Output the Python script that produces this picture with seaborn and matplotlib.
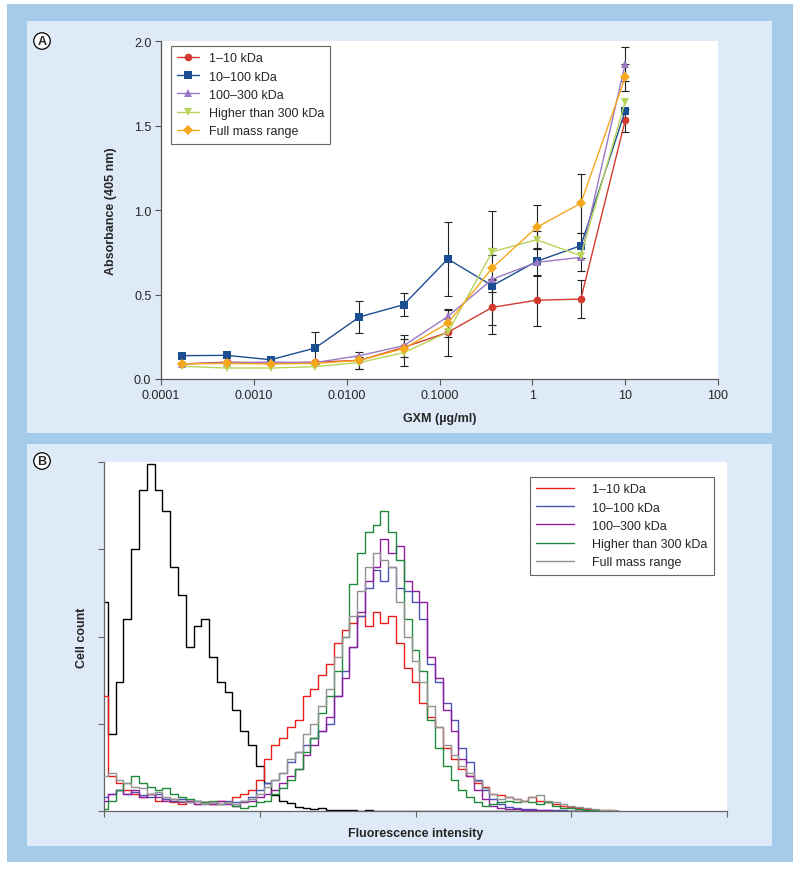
import numpy as np
import pandas as pd
import matplotlib
matplotlib.use("Agg")
import matplotlib.pyplot as plt
from matplotlib.patches import Rectangle
import seaborn as sns

sns.set_style("white")
plt.rcParams['font.family'] = ['Liberation Sans', 'DejaVu Sans']

# ---------- Panel A data: ELISA absorbance vs GXM concentration ----------
gxm = [0.000169, 0.000508, 0.00152, 0.00457, 0.0137, 0.0412, 0.123, 0.370, 1.11, 3.33, 10.0]
fractions = ["1\u201310 kDa", "10\u2013100 kDa", "100\u2013300 kDa", "Higher than 300 kDa", "Full mass range"]
abs_1_10 = [0.089, 0.100, 0.093, 0.100, 0.110, 0.187, 0.276, 0.424, 0.466, 0.473, 1.530]
abs_10_100 = [0.138, 0.140, 0.114, 0.183, 0.367, 0.440, 0.710, 0.552, 0.696, 0.789, 1.586]
abs_100_300 = [0.089, 0.097, 0.100, 0.097, 0.138, 0.197, 0.370, 0.590, 0.690, 0.720, 1.864]
abs_gt300 = [0.075, 0.065, 0.065, 0.073, 0.097, 0.156, 0.276, 0.753, 0.824, 0.730, 1.640]
abs_full = [0.090, 0.092, 0.089, 0.092, 0.110, 0.180, 0.330, 0.657, 0.897, 1.040, 1.785]
err_1_10 = [0, 0, 0, 0, 0, 0, 0.14, 0.16, 0.15, 0.11, 0.07]
err_10_100 = [0, 0, 0, 0.095, 0.095, 0.07, 0.22, 0.04, 0, 0.075, 0]
err_100_300 = [0, 0, 0, 0, 0, 0.065, 0, 0, 0.08, 0.08, 0.10]
err_gt300 = [0, 0, 0, 0, 0.035, 0.08, 0, 0.02, 0.05, 0, 0]
err_full = [0, 0, 0, 0, 0.05, 0, 0.08, 0.335, 0.13, 0.175, 0.08]

# ---------- Panel B data: flow cytometry histograms ----------
# bin positions along the fluorescence axis (decades), 0.05 apart
fl_bins = np.round(np.arange(67) * 0.05, 2)
cnt_control = [60, 22, 37, 55, 75, 92, 99.5, 92, 86, 70,
               62, 47, 53, 55, 44, 37, 34, 29, 23, 19,
               13, 8, 4.5, 3, 2.4, 1.2, 1.0, 0.6, 0.8, 0.4,
               0.3, 0.2, 0.3, 0.1, 0.2, 0.1, 0, 0.1, 0, 0,
               0, 0, 0, 0, 0, 0, 0, 0, 0, 0,
               0, 0, 0, 0, 0, 0, 0, 0, 0, 0,
               0, 0, 0, 0, 0, 0, 0]
cnt_1_10 = [33, 10, 8, 6, 5, 4, 5, 3, 3.5, 2.5,
            2, 3, 2, 2.5, 2, 3, 2.5, 4, 5, 6,
            9, 15, 19, 21, 24, 26, 33, 35, 39, 42,
            48, 52, 54, 56, 53, 57, 54, 56, 48, 41,
            37, 31, 27, 24, 18, 15, 12, 10, 8, 7,
            5, 4.5, 4, 3.5, 3, 4, 3, 2.5, 2, 1.5,
            1.2, 0.8, 0.6, 0.4, 0.3, 0.2, 0.1]
cnt_10_100 = [4, 5, 6, 5, 5.5, 4.5, 4, 5, 3.5, 3,
              3.5, 2.5, 3, 2, 2.5, 2, 3, 2.5, 3, 4,
              6, 8, 9, 11, 14, 17, 19, 21, 23, 25,
              33, 40, 47, 56, 64, 69, 66, 70, 64, 63,
              60, 55, 42, 37, 31, 26, 18, 14, 9, 6,
              3.5, 2, 1.2, 0.8, 0.6, 0.5, 0.3, 0.3, 0.2, 0.2,
              0.1, 0.1, 0, 0, 0, 0, 0]
cnt_100_300 = [3, 5, 6, 5, 6, 4, 5, 4, 3, 3.5,
               2.5, 3, 2, 2.5, 2, 3, 2, 1.5, 2.5, 3,
               4, 5, 6, 8, 10, 12, 16, 19, 23, 27,
               33, 38, 47, 57, 66, 70, 78, 74, 76, 66,
               63, 60, 44, 38, 29, 23, 15, 10, 6, 3.5,
               1.5, 1, 0.7, 0.5, 0.4, 0.3, 0.2, 0.2, 0.1, 0.1,
               0, 0, 0, 0, 0, 0, 0]
cnt_gt300 = [0.5, 3, 6, 8, 10, 8, 7, 6, 6.5, 5,
             4, 3.5, 3, 2.5, 3, 2, 2.5, 1.5, 1, 1.5,
             2.5, 3, 5, 6.5, 9, 12, 17, 21, 28, 33,
             40, 50, 65, 74, 80, 82, 86, 80, 72, 55,
             46, 40, 26, 18, 13, 9, 6, 4, 2.5, 1.5,
             2, 2.5, 3, 2.5, 3, 2.5, 2, 2.5, 1.5, 1,
             0.8, 0.5, 0.3, 0.2, 0.1, 0, 0]
cnt_full = [10, 11, 9, 8, 7, 6.5, 5, 5.5, 4, 3.5,
            3, 2.5, 3, 2, 2.5, 2, 2.5, 2, 3, 3.5,
            5, 7, 9, 11, 15, 17, 22, 25, 30, 35,
            44, 50, 56, 63, 70, 74, 72, 70, 60, 50,
            43, 37, 30, 24, 19, 16, 13, 11, 8.5, 6.5,
            5, 3.5, 4, 3.5, 3, 4, 4.5, 3, 2.5, 2,
            1.5, 1.2, 0.8, 0.5, 0.3, 0.2, 0.1]

colors_a = ["#d43a2f", "#1b4f92", "#9a78c4", "#b9d45a", "#f5a81c"]
markers_a = ["o", "s", "^", "v", "D"]
msizes_a = [5.5, 5.5, 5.5, 5.5, 5]
colors_b = ["#e8201c", "#4b52b4", "#8e1f9e", "#1f8a3b", "#939393"]

abs_series = [abs_1_10, abs_10_100, abs_100_300, abs_gt300, abs_full]
err_series = [err_1_10, err_10_100, err_100_300, err_gt300, err_full]
cnt_series = [cnt_1_10, cnt_10_100, cnt_100_300, cnt_gt300, cnt_full]

fig = plt.figure(figsize=(8, 8.7), dpi=100)
W, H = 800, 870

def px_rect(x0, y0, x1, y1, color):
    fig.patches.append(Rectangle((x0 / W, 1 - y1 / H), (x1 - x0) / W, (y1 - y0) / H,
                                 transform=fig.transFigure, facecolor=color,
                                 edgecolor="none", zorder=-10))

px_rect(7, 5, 793, 863, "#a5cbeb")
px_rect(27, 22, 772, 434, "#deeaf8")
px_rect(27, 445, 772, 847, "#deeaf8")

for lab, (x, y) in {"A": (42, 42), "B": (42, 462)}.items():
    fig.text(x / W, 1 - y / H, lab, ha="center", va="center", fontsize=9, fontweight="bold",
             bbox=dict(boxstyle="circle,pad=0.18", facecolor="white", edgecolor="black", linewidth=0.9))

# ---------- Panel A ----------
axA = fig.add_axes([161 / W, 1 - 380 / H, (718 - 161) / W, (380 - 42) / H])
axA.set_facecolor("white")
for i, name in enumerate(fractions):
    df = pd.DataFrame({"gxm": gxm, "absorbance": abs_series[i]})
    sns.lineplot(data=df, x="gxm", y="absorbance", ax=axA, color=colors_a[i],
                 marker=markers_a[i], markersize=msizes_a[i], markeredgewidth=0,
                 linewidth=1.0, label=name, estimator=None, zorder=3)
for i in range(len(fractions)):
    e = np.array(err_series[i])
    m = e > 0
    axA.errorbar(np.array(gxm)[m], np.array(abs_series[i])[m], yerr=e[m], fmt="none",
                 ecolor="#222222", elinewidth=0.8, capsize=3, capthick=0.8, zorder=2)

axA.set_xscale("log")
axA.set_xlim(1e-4, 100)
axA.set_ylim(0, 2.0)
axA.set_xticks([1e-4, 1e-3, 1e-2, 1e-1, 1, 10, 100])
axA.set_xticklabels(["0.0001", "0.0010", "0.0100", "0.1000", "1", "10", "100"])
axA.xaxis.set_minor_locator(matplotlib.ticker.NullLocator())
axA.set_yticks([0, 0.5, 1.0, 1.5, 2.0])
axA.set_yticklabels(["0.0", "0.5", "1.0", "1.5", "2.0"])
axA.set_xlabel("GXM (\u00b5g/ml)", fontsize=9, fontweight="bold", labelpad=8)
axA.set_ylabel("Absorbance (405 nm)", fontsize=9, fontweight="bold", labelpad=12)
axA.tick_params(axis="both", direction="out", length=4, width=0.8, color="#555555",
                labelsize=9, pad=3, bottom=True, left=True)
for s in ["top", "right"]:
    axA.spines[s].set_visible(False)
for s in ["left", "bottom"]:
    axA.spines[s].set_color("#555555")
    axA.spines[s].set_linewidth(0.9)
legA = axA.legend(loc="upper left", bbox_to_anchor=(0.018, 0.985), borderaxespad=0,
                  fontsize=9, frameon=True, fancybox=False, framealpha=1,
                  edgecolor="#666666", handlelength=1.7, labelspacing=0.5,
                  borderpad=0.5, handletextpad=0.8)
legA.get_frame().set_linewidth(0.8)

# ---------- Panel B ----------
axB = fig.add_axes([104 / W, 1 - 812 / H, (727 - 104) / W, (812 - 463) / H])
axB.set_facecolor("white")
sns.lineplot(x=fl_bins, y=cnt_control, ax=axB, color="black", linewidth=1.0,
             drawstyle="steps-mid", estimator=None, zorder=2)
for i, name in enumerate(fractions):
    sns.lineplot(x=fl_bins, y=cnt_series[i], ax=axB, color=colors_b[i], linewidth=1.0,
                 drawstyle="steps-mid", estimator=None, label=name, zorder=3)
axB.set_xlim(0, 4)
axB.set_ylim(0, 100)
axB.set_xticks([0, 1, 2, 3, 4])
axB.set_yticks([0, 25, 50, 75, 100])
axB.set_xticklabels([])
axB.set_yticklabels([])
axB.set_xlabel("Fluorescence intensity", fontsize=9, fontweight="bold", labelpad=4)
axB.set_ylabel("Cell count", fontsize=9, fontweight="bold", labelpad=4)
axB.tick_params(axis="both", direction="out", length=4, width=0.8, color="#666666",
                bottom=True, left=True)
for s in ["top", "right"]:
    axB.spines[s].set_visible(False)
for s in ["left", "bottom"]:
    axB.spines[s].set_color("#666666")
    axB.spines[s].set_linewidth(0.9)
legB = axB.legend(loc="upper right", bbox_to_anchor=(0.979, 0.957), borderaxespad=0,
                  fontsize=9, frameon=True, fancybox=False, framealpha=1,
                  edgecolor="#666666", handlelength=3.0, labelspacing=0.5,
                  borderpad=0.5, handletextpad=1.5)
legB.get_frame().set_linewidth(0.8)

fig.savefig("out.png", dpi=100)
